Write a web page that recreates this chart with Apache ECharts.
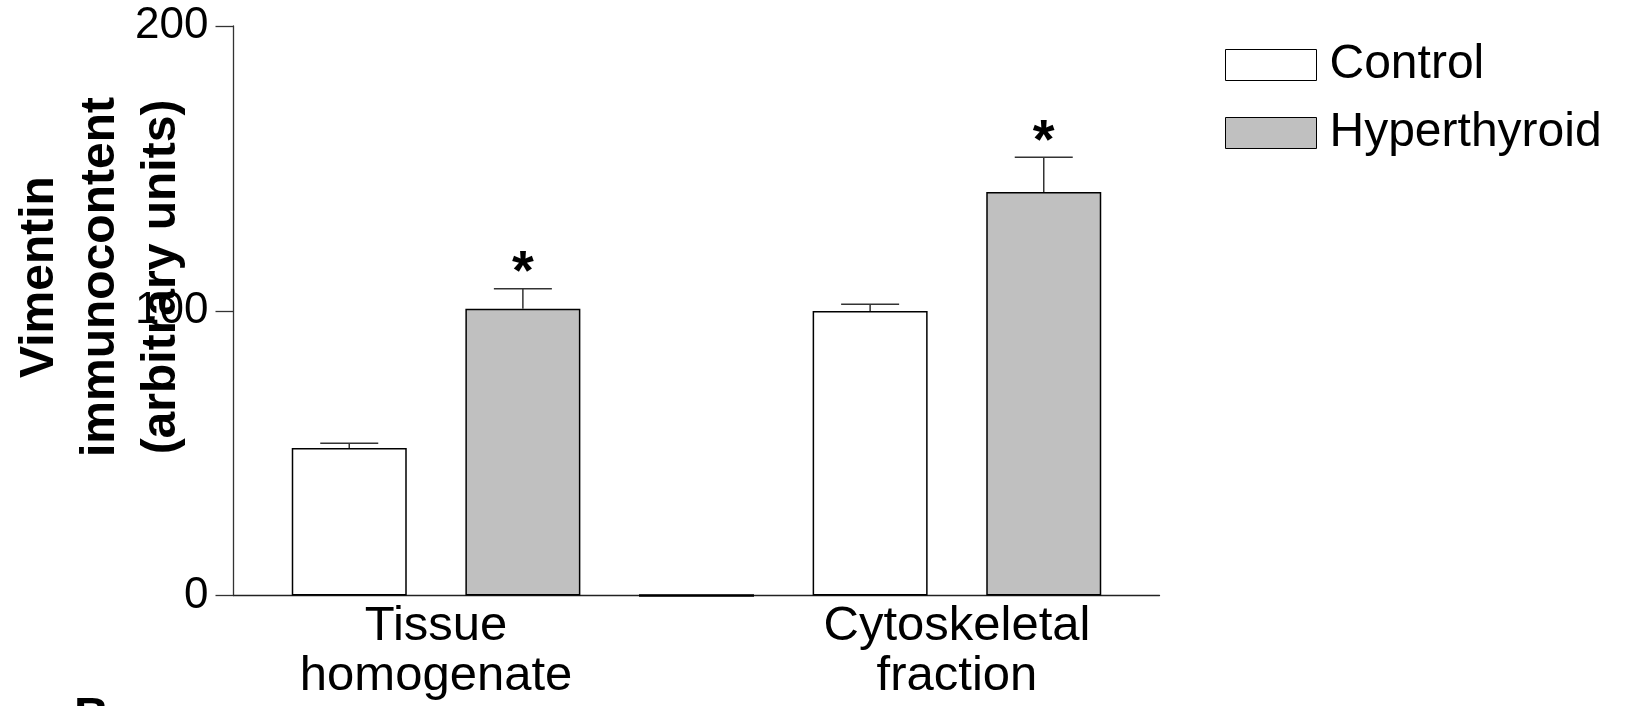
<!DOCTYPE html>
<html>
<head>
<meta charset="utf-8">
<script src="https://cdn.jsdelivr.net/npm/echarts@6/dist/echarts.min.js"></script>
<style>
html,body{margin:0;padding:0;background:#fff;}
#chart{width:1635px;height:706px;}
</style>
</head>
<body>
<div id="chart"></div>
<script>
// ---- data ----
const groups = ['Tissue\nhomogenate', 'Cytoskeletal\nfraction'];
const seriesNames = ['Control', 'Hyperthyroid'];
const controlMean = [51.8, 99.9];
const controlErr = [1.7, 2.4];
const hyperMean = [100.7, 141.7];
const hyperErr = [7.0, 12.2];
const hyperSig = ['*', '*'];
const controlSig = ['', ''];
const yTicks = [0, 100, 200];

// bar slot positions (GraphPad-style columns, with an empty column between groups)
const controlPos = [0, 3];
const hyperPos = [1, 4];
const emptyPos = [2];
const groupPos = [0.5, 3.5];

const FONT = '"Liberation Sans", Arial, Helvetica, sans-serif';

const controlData = controlMean.map((v, i) => [controlPos[i], v]);
const hyperData = hyperMean.map((v, i) => [hyperPos[i], v]);
const emptyData = emptyPos.map(p => [p, 0]);
const errData = []
  .concat(controlMean.map((v, i) => [controlPos[i], v, controlErr[i], controlSig[i]]))
  .concat(hyperMean.map((v, i) => [hyperPos[i], v, hyperErr[i], hyperSig[i]]));

const chart = echarts.init(document.getElementById('chart'), null, {renderer: 'canvas'});

const option = {
  backgroundColor: '#fff',
  animation: false,
  grid: {left: 233.5, right: 475.5, top: 26, bottom: 110.5, containLabel: false},
  legend: {
    data: seriesNames,
    orient: 'vertical',
    left: 1220,
    top: 33,
    itemWidth: 91,
    itemHeight: 31,
    itemGap: 14,
    icon: 'rect',
    selectedMode: false,
    textStyle: {fontFamily: FONT, fontSize: 48, color: '#000', lineHeight: 48, padding: [6, 0, 0, 8]},
    itemStyle: {borderColor: '#000', borderWidth: 1}
  },
  xAxis: {
    type: 'value',
    min: -2 / 3,
    max: 4 + 2 / 3,
    splitLine: {show: false},
    axisLine: {show: true, onZero: false, lineStyle: {color: '#222', width: 1.3}},
    axisTick: {show: false},
    axisLabel: {
      show: true,
      customValues: groupPos,
      formatter: function (v) {
        const i = groupPos.findIndex(p => Math.abs(p - v) < 1e-6);
        return i >= 0 ? groups[i] : '';
      },
      fontFamily: FONT,
      fontSize: 49,
      lineHeight: 50,
      color: '#000',
      margin: 6
    }
  },
  yAxis: {
    type: 'value',
    min: 0,
    max: 200,
    interval: 100,
    splitLine: {show: false},
    axisLine: {show: true, onZero: false, lineStyle: {color: '#333', width: 1.3}},
    axisTick: {show: true, inside: false, length: 18, lineStyle: {color: '#333', width: 1.3}},
    axisLabel: {
      fontFamily: FONT, fontSize: 44, color: '#000', margin: 25,
      formatter: function (v) { return yTicks.indexOf(v) >= 0 ? String(v) : ''; }
    }
  },
  series: [
    {
      name: 'Control', type: 'bar', data: controlData, barWidth: 115, barGap: '-100%',
      itemStyle: {color: '#ffffff', borderColor: '#000', borderWidth: 1.5}, z: 2
    },
    {
      name: 'Hyperthyroid', type: 'bar', data: hyperData, barWidth: 115, barGap: '-100%',
      itemStyle: {color: '#c0c0c0', borderColor: '#000', borderWidth: 1.5}, z: 2
    },
    {
      name: 'empty', type: 'bar', data: emptyData, barWidth: 115, barGap: '-100%',
      itemStyle: {color: '#ffffff', borderColor: '#000', borderWidth: 2.5}, z: 3
    },
    {
      name: 'err', type: 'custom', z: 4,
      data: errData,
      encode: {x: 0, y: 1},
      renderItem: function (params, api) {
        const x = api.value(0), m = api.value(1), e = api.value(2);
        const sig = errData[params.dataIndex][3];
        const b = api.coord([x, m]);
        const t = api.coord([x, m + e]);
        const half = 29;
        const st = {stroke: '#333', lineWidth: 1.5};
        const children = [
          {type: 'line', shape: {x1: b[0], y1: b[1], x2: t[0], y2: t[1]}, style: st},
          {type: 'line', shape: {x1: t[0] - half, y1: t[1], x2: t[0] + half, y2: t[1]}, style: st}
        ];
        if (sig) {
          children.push({
            type: 'text',
            style: {
              text: sig, x: t[0], y: t[1] - 15, align: 'center', verticalAlign: 'middle',
              font: 'bold 56px ' + FONT, fill: '#000'
            }
          });
        }
        return {type: 'group', children: children};
      }
    }
  ],
  graphic: [
    {
      type: 'text',
      x: 101, y: 277,
      rotation: Math.PI / 2,
      z: 10,
      style: {
        text: 'Vimentin\nimmunocontent\n(arbitrary units)',
        align: 'center', verticalAlign: 'middle',
        font: 'bold 48px ' + FONT, lineHeight: 61, fill: '#000'
      }
    },
    {
      type: 'text',
      x: 74, y: 694,
      style: {text: 'B', align: 'left', verticalAlign: 'top', font: 'bold 48px ' + FONT, fill: '#000'}
    }
  ]
};
chart.setOption(option);
</script>
</body>
</html>
